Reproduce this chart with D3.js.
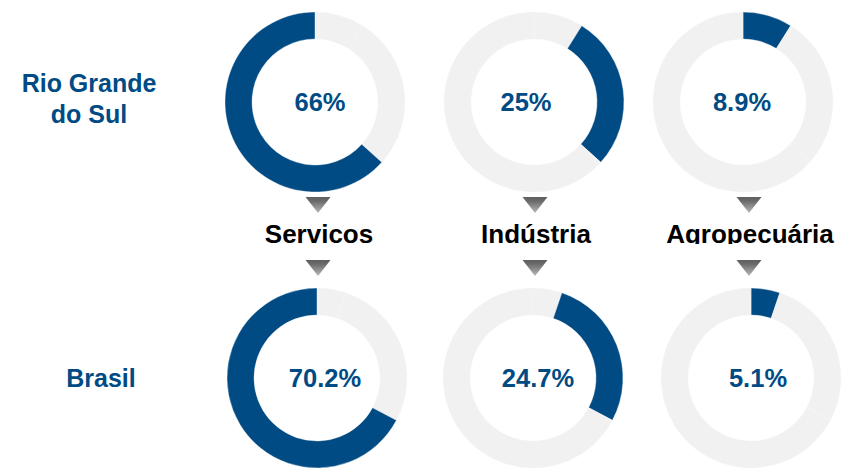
<!DOCTYPE html>
<html>
<head>
<meta charset="utf-8">
<script src="https://cdn.jsdelivr.net/npm/d3@7"></script>
<style>
  body { margin: 0; background: #fff; }
  svg { display: block; font-family: Arial, "Liberation Sans", sans-serif; font-weight: bold; }
</style>
</head>
<body>
<svg class="chart"></svg>
<script>
// Chart data
const categories = ['Servicos', 'Indústria', 'Agropecuária'];
const regionLines = [['Rio Grande', 'do Sul'], ['Brasil']];
// ring slices, clockwise from 12 o'clock, as drawn in the picture
const sliceOrder = ['Agropecuária', 'Indústria', 'Servicos'];
const rsShares = [8.9, 27.8, 63.3];
const brShares = [5.2, 27.6, 67.2];
// percentage labels per category (same order as categories)
const rsLabels = ['66%', '25%', '8.9%'];
const brLabels = ['70.2%', '24.7%', '5.1%'];

const width = 847;
const height = 472;
const blue = '#004b84';
const grey = '#f1f1f1';

const svg = d3.select('svg.chart')
  .attr('width', width)
  .attr('height', height);

//Gradient for the little arrows
const grad = svg.append('defs').append('linearGradient')
  .attr('id', 'arrowGrad')
  .attr('x1', 0).attr('y1', 0).attr('x2', 0).attr('y2', 1);
grad.append('stop').attr('offset', '0%').attr('stop-color', '#5f5f5f');
grad.append('stop').attr('offset', '25%').attr('stop-color', '#6a6a6a');
grad.append('stop').attr('offset', '100%').attr('stop-color', '#b8b8b8');

svg.select('defs').append('clipPath')
  .attr('id', 'labelClip')
  .append('rect')
    .attr('x', 0).attr('y', 214)
    .attr('width', width).attr('height', 30);

//Rows of rings
const rows = [
  { shares: rsShares, labels: rsLabels, lines: regionLines[0],
    cx: d3.scaleOrdinal().domain(categories).range([315, 534, 743]),
    cy: 102, textDx: [5, -8, -1], nameX: 89, nameY: [92, 123] },
  { shares: brShares, labels: brLabels, lines: regionLines[1],
    cx: d3.scaleOrdinal().domain(categories).range([317, 533, 751]),
    cy: 378, textDx: [8, 5, 7], nameX: 101, nameY: [387] }
];

const pie = d3.pie().sort(null).value(d => d.value);
const arc = d3.arc().innerRadius(63).outerRadius(90);

rows.forEach(row => {
  const slices = pie(sliceOrder.map((name, i) => ({ name: name, value: row.shares[i] })));

  categories.forEach((cat, ci) => {
    const g = svg.append('g')
      .attr('transform', `translate(${row.cx(cat)},${row.cy})`);

    g.selectAll('path')
      .data(slices)
      .enter()
      .append('path')
        .attr('d', arc)
        .attr('fill', d => d.data.name === cat ? blue : grey)
        .attr('stroke', '#f7f7f7')
        .attr('stroke-width', 0.4);

    g.append('text')
      .attr('x', row.textDx[ci])
      .attr('y', 9)
      .attr('text-anchor', 'middle')
      .attr('font-size', 25.5)
      .attr('fill', blue)
      .text(row.labels[ci]);
  });

  //Region name
  const name = svg.append('text')
    .attr('text-anchor', 'middle')
    .attr('font-size', 25)
    .attr('fill', blue);
  name.selectAll('tspan')
    .data(row.lines)
    .enter()
    .append('tspan')
      .attr('x', row.nameX)
      .attr('y', (d, i) => row.nameY[i])
      .text(d => d);
});

//Category labels and arrows between the rows
const colX = d3.scaleOrdinal().domain(categories).range([318, 535, 749]);

svg.append('g')
  .attr('clip-path', 'url(#labelClip)')
  .selectAll('text')
  .data(categories)
  .enter()
  .append('text')
    .attr('x', d => colX(d) + 1)
    .attr('y', 243)
    .attr('text-anchor', 'middle')
    .attr('font-size', 26)
    .attr('fill', '#000')
    .text(d => d);

const arrowTops = [197, 260];
arrowTops.forEach(top => {
  svg.selectAll(null)
    .data(categories)
    .enter()
    .append('path')
      .attr('d', d => {
        const x = colX(d);
        return `M${x - 12.5},${top}L${x + 12.5},${top}L${x},${top + 16}Z`;
      })
      .attr('fill', 'url(#arrowGrad)');
});
</script>
</body>
</html>
